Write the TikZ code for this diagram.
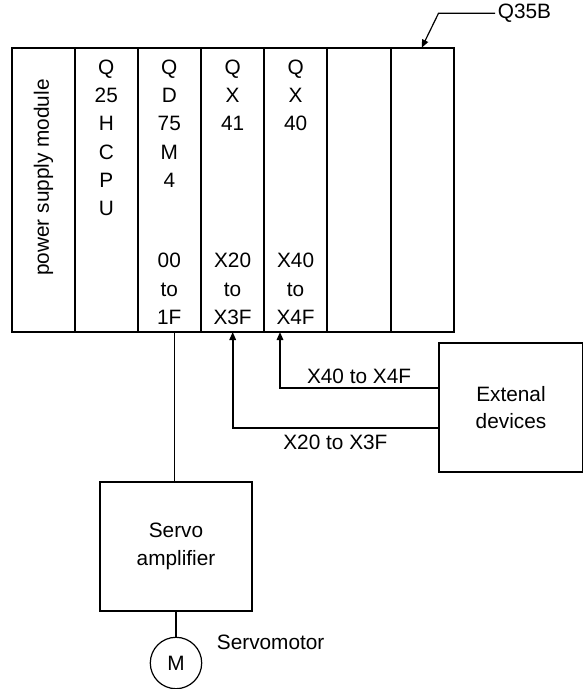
\documentclass[tikz,border=0pt]{standalone}
\usepackage{fontspec}
\setmainfont{Liberation Sans}
\usetikzlibrary{positioning, arrows.meta}

\begin{document}
\begin{tikzpicture}[x=1pt, y=-1pt, font=\fontsize{20.8}{27.3}\selectfont,
    box/.style={draw, line width=1.8pt, inner sep=0pt, align=center},
    wire/.style={line width=1.6pt},
    feed/.style={wire, -{Triangle[length=8pt, width=6.5pt]}}]
  \useasboundingbox (0,0) rectangle (583,689);

  % base unit and its slots
  \draw[line width=2pt] (12,47.7) rectangle (454,332);
  \foreach \x in {75,137.5,201,264.3,327,391}
    \draw[line width=2pt] (\x,47.7) -- (\x,332);

  \node[rotate=90] (psu) at (43.5,177.5) {power supply module};
  \foreach \t [count=\i] in {Q,25,H,C,P,U}
    \node[anchor=base] (cpu\i) at (106.3,{74.1+28.3*(\i-1)}) {\t};
  \foreach \t [count=\i] in {Q,D,75,M,4}
    \node[anchor=base] (pos\i) at (169.3,{74.1+28.3*(\i-1)}) {\t};
  \foreach \t [count=\i] in {Q,X,41}
    \node[anchor=base] (ina\i) at (232.6,{74.1+28.3*(\i-1)}) {\t};
  \foreach \t [count=\i] in {Q,X,40}
    \node[anchor=base] (inb\i) at (295.6,{74.1+28.3*(\i-1)}) {\t};
  \foreach \t [count=\i] in {00,to,1F}
    \node[anchor=base] (posio\i) at (169.3,{267.5+28.5*(\i-1)}) {\t};
  \foreach \t [count=\i] in {X20,to,X3F}
    \node[anchor=base] (inaio\i) at (232.6,{267.5+28.5*(\i-1)}) {\t};
  \foreach \t [count=\i] in {X40,to,X4F}
    \node[anchor=base] (inbio\i) at (295.6,{267.5+28.5*(\i-1)}) {\t};

  % base unit name
  \node[anchor=west, inner sep=0pt] (q35b) at (497.7,13.3) {Q35B};
  \coordinate (slot) at (421.7,47.7);
  \draw[line width=1.2pt, -{Triangle[length=8pt, width=6.5pt]}]
    ([xshift=-2.5pt]q35b.west) -- ++(-56.7,0) -- (slot);

  % external devices
  \node[box, minimum width=144pt, minimum height=128.7pt] (ext) at (511,407.4) {Extenal\\devices};
  \coordinate (qx41) at (232.7,332);
  \coordinate (qx40) at (280,332);
  \draw[feed] ([yshift=19.7pt]ext.west) -| (qx40)
    node[pos=0.25, above, inner sep=3pt] (lbl40) {X40 to X4F};
  \draw[feed] ([yshift=-20.3pt]ext.west) -| (qx41)
    node[pos=0.25, below, inner sep=6pt] (lbl20) {X20 to X3F};

  % servo side
  \node[box, minimum width=152pt, minimum height=129pt] (servo) at (176,546.5) {Servo\\amplifier};
  \node[draw, circle, line width=1.2pt, minimum size=51.4pt, inner sep=0pt] (motor) at (176,663) {M};
  \node[anchor=west, inner sep=0pt] (motorlbl) at (216.7,642.7) {Servomotor};

  \coordinate (qd75) at (174.3,332);
  \draw[wire] (qd75) -- (qd75 |- servo.north);
  \draw[wire] (servo.south) -- (motor.north);
\end{tikzpicture}
\end{document}
